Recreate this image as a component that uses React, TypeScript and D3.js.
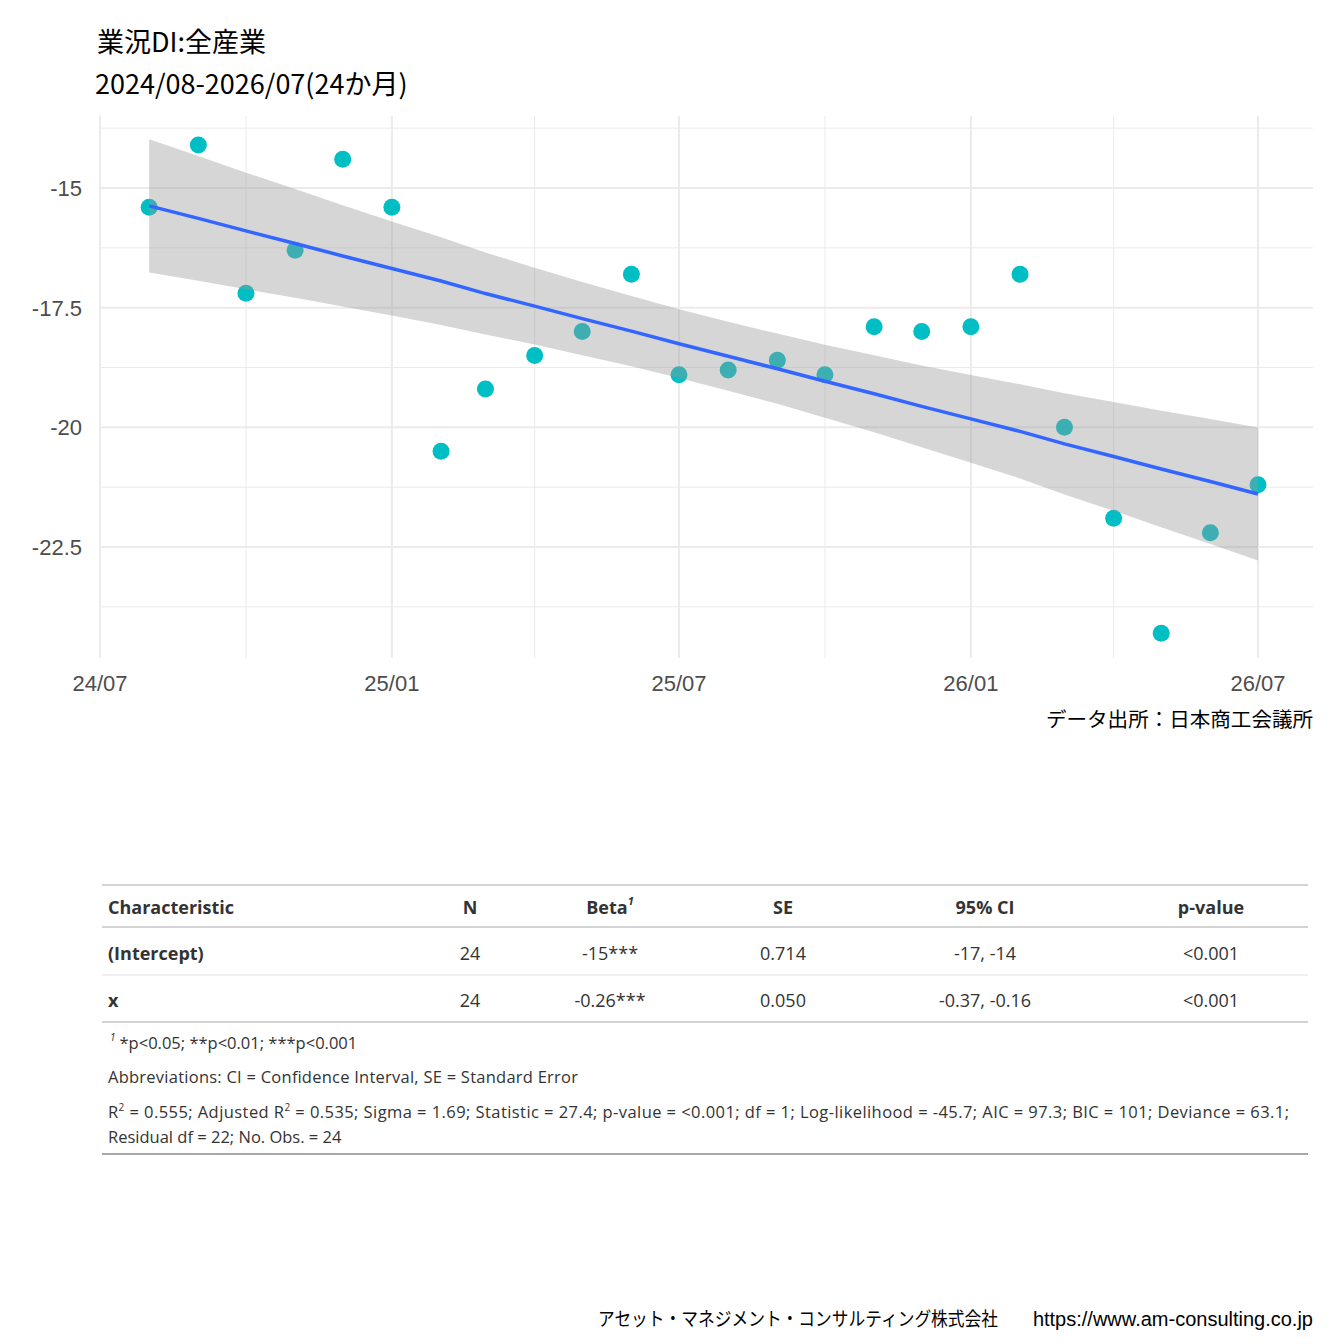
import * as d3 from "d3";

const months = [
  "2024-08","2024-09","2024-10","2024-11","2024-12","2025-01","2025-02","2025-03",
  "2025-04","2025-05","2025-06","2025-07","2025-08","2025-09","2025-10","2025-11",
  "2025-12","2026-01","2026-02","2026-03","2026-04","2026-05","2026-06","2026-07",
];
const values = [
  -15.4, -14.1, -17.2, -16.3, -14.4, -15.4, -20.5, -19.2, -18.5, -18.0, -16.8, -18.9,
  -18.8, -18.6, -18.9, -17.9, -18.0, -17.9, -16.8, -20.0, -21.9, -24.3, -22.2, -21.2,
];
const xTicks = ["2024-07", "2025-01", "2025-07", "2026-01", "2026-07"];
const xMinor = ["2024-10", "2025-04", "2025-10", "2026-04"];
const yTicks = [-15, -17.5, -20, -22.5];
const yMinor = [-13.75, -16.25, -18.75, -21.25, -23.75];

const tableHeader = ["Characteristic", "N", "Beta", "SE", "95% CI", "p-value"];
const tableRows = [
  ["(Intercept)", "24", "-15***", "0.714", "-17, -14", "<0.001"],
  ["x", "24", "-0.26***", "0.050", "-0.37, -0.16", "<0.001"],
];

const toDate = (s: string) => new Date(+s.slice(0, 4), +s.slice(5, 7) - 1, 1);
const fmtTick = (s: string) => s.slice(2, 4) + "/" + s.slice(5, 7);

export default function App() {
  const x = d3.scaleTime().domain([toDate("2024-07"), toDate("2026-07")]).range([100, 1258]);
  const y = d3.scaleLinear().domain([-15, -22.5]).range([188, 547]);
  const pts = months.map((m, i) => ({ d: toDate(m), v: values[i], i: i + 1 }));

  // linear regression on index, 95% CI
  const n = pts.length;
  const mx = d3.mean(pts, (p) => p.i)!;
  const my = d3.mean(pts, (p) => p.v)!;
  const sxx = d3.sum(pts, (p) => (p.i - mx) ** 2);
  const b = d3.sum(pts, (p) => (p.i - mx) * (p.v - my)) / sxx;
  const a = my - b * mx;
  const s = Math.sqrt(d3.sum(pts, (p) => (p.v - a - b * p.i) ** 2) / (n - 2));
  const t = 2.074;
  const fit = pts.map((p) => {
    const f = a + b * p.i;
    const se = s * Math.sqrt(1 / n + (p.i - mx) ** 2 / sxx);
    return { d: p.d, f, lo: f - t * se, hi: f + t * se };
  });
  const area = d3.area<any>().x((p) => x(p.d)).y0((p) => y(p.lo)).y1((p) => y(p.hi));
  const line = d3.line<any>().x((p) => x(p.d)).y((p) => y(p.f));

  const grid = "#ebebeb";
  const colX = [108, 470, 610, 783, 985, 1211];
  const font = "'Open Sans', 'Noto Sans', sans-serif";
  const arial = "'Liberation Sans', Arial, sans-serif";
  const jp = "'Noto Sans CJK JP', sans-serif";

  return (
    <div style={{ margin: -8 }}>
      <svg width={1344} height={1344} style={{ display: "block", background: "#fff" }}>
        <text x={97} y={52} fontSize={27} fontFamily={jp} fill="#000">業況DI:全産業</text>
        <text x={95} y={94} fontSize={27} fontFamily={jp} fill="#000">2024/08-2026/07(24か月)</text>

        {yMinor.map((v) => (
          <line key={v} x1={100} x2={1313} y1={y(v)} y2={y(v)} stroke={grid} strokeWidth={1} />
        ))}
        {xMinor.map((m) => (
          <line key={m} x1={x(toDate(m))} x2={x(toDate(m))} y1={116} y2={658} stroke={grid} strokeWidth={1} />
        ))}
        {yTicks.map((v) => (
          <line key={v} x1={100} x2={1313} y1={y(v)} y2={y(v)} stroke={grid} strokeWidth={2} />
        ))}
        {xTicks.map((m) => (
          <line key={m} x1={x(toDate(m))} x2={x(toDate(m))} y1={116} y2={658} stroke={grid} strokeWidth={2} />
        ))}

        {pts.map((p) => (
          <circle key={p.i} cx={x(p.d)} cy={y(p.v)} r={8.5} fill="#00BFC4" />
        ))}
        <path d={area(fit)!} fill="#999999" opacity={0.4} />
        <path d={line(fit)!} fill="none" stroke="#3366FF" strokeWidth={3.5} />

        {yTicks.map((v) => (
          <text key={v} x={82} y={y(v) + 8} textAnchor="end" fontSize={22} fontFamily={arial} fill="#4d4d4d">{v}</text>
        ))}
        {xTicks.map((m) => (
          <text key={m} x={x(toDate(m))} y={691} textAnchor="middle" fontSize={22} fontFamily={arial} fill="#4d4d4d">{fmtTick(m)}</text>
        ))}
        <text x={1313} y={727} textAnchor="end" fontSize={20} fontFamily={jp} fill="#000" textLength={267} lengthAdjust="spacingAndGlyphs">データ出所：日本商工会議所</text>

        {/* table */}
        <line x1={102} x2={1308} y1={885} y2={885} stroke="#d3d3d3" strokeWidth={2} />
        <line x1={102} x2={1308} y1={927} y2={927} stroke="#d3d3d3" strokeWidth={2} />
        <line x1={102} x2={1308} y1={975} y2={975} stroke="#e0e0e0" strokeWidth={1} />
        <line x1={102} x2={1308} y1={1022} y2={1022} stroke="#d3d3d3" strokeWidth={2} />
        <line x1={102} x2={1308} y1={1154} y2={1154} stroke="#a8a8a8" strokeWidth={2} />
        {tableHeader.map((h, i) => (
          <text key={h} x={colX[i]} y={914} textAnchor={i === 0 ? "start" : "middle"} fontSize={18} fontWeight="bold" fontFamily={font} fill="#333">
            {h}
            {h === "Beta" && <tspan fontSize={11} fontStyle="italic" dy={-9}>1</tspan>}
          </text>
        ))}
        {tableRows.map((r, ri) =>
          r.map((c, i) => (
            <text key={ri + "-" + i} x={colX[i]} y={960 + ri * 47} textAnchor={i === 0 ? "start" : "middle"} fontSize={18} fontWeight={i === 0 ? "bold" : "normal"} fontFamily={font} fill="#333">{c}</text>
          ))
        )}
        <g fontSize={16.5} fontFamily={font} fill="#333">
          <text x={110} y={1049}><tspan fontSize={10} fontStyle="italic" dy={-8}>1</tspan><tspan dy={8} dx={4}>*p&lt;0.05; **p&lt;0.01; ***p&lt;0.001</tspan></text>
          <text x={108} y={1083} textLength={470} lengthAdjust="spacing">Abbreviations: CI = Confidence Interval, SE = Standard Error</text>
          <text x={108} y={1118} textLength={1181} lengthAdjust="spacing">R<tspan fontSize={10} dy={-7}>2</tspan><tspan dy={7}> = 0.555; Adjusted R</tspan><tspan fontSize={10} dy={-7}>2</tspan><tspan dy={7}> = 0.535; Sigma = 1.69; Statistic = 27.4; p-value = &lt;0.001; df = 1; Log-likelihood = -45.7; AIC = 97.3; BIC = 101; Deviance = 63.1;</tspan></text>
          <text x={108} y={1143}>Residual df = 22; No. Obs. = 24</text>
        </g>

        <text x={598} y={1326} fontSize={19} fill="#000" fontFamily={jp} textLength={400} lengthAdjust="spacingAndGlyphs">アセット・マネジメント・コンサルティング株式会社</text>
        <text x={1313} y={1326} textAnchor="end" fontSize={20} fill="#000" fontFamily={arial}>https://www.am-consulting.co.jp</text>
      </svg>
    </div>
  );
}
